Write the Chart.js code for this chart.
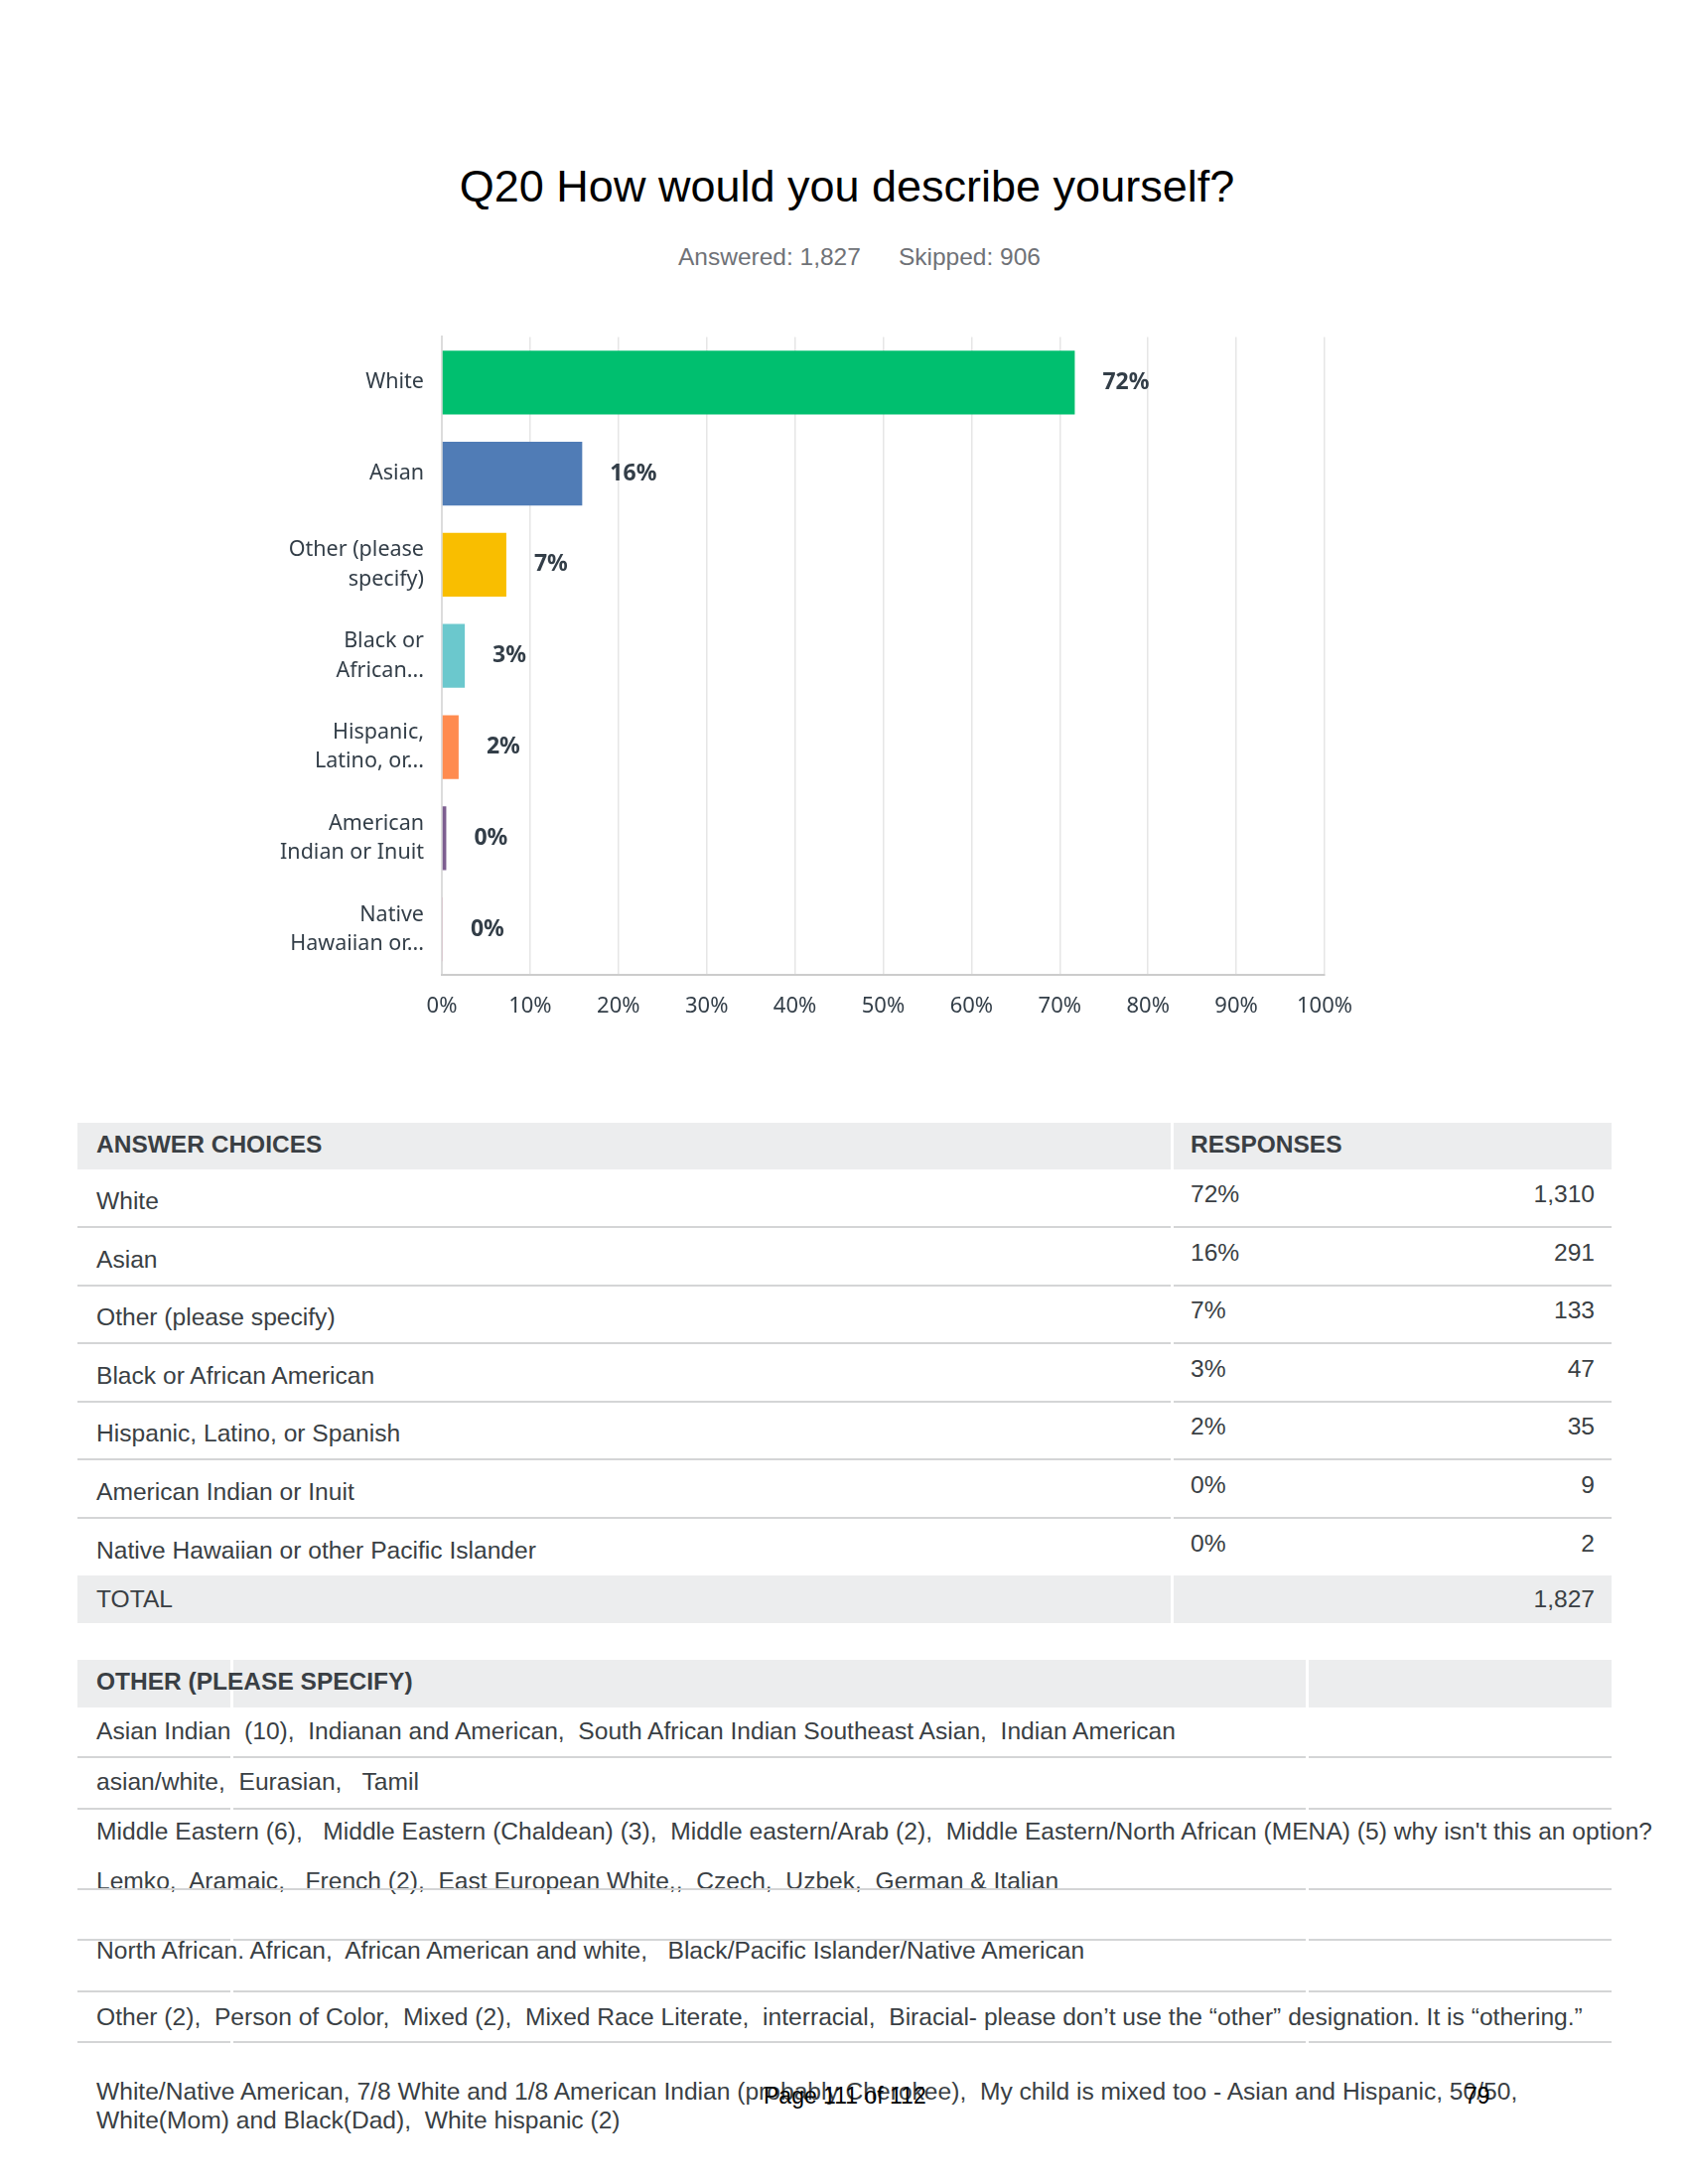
<!DOCTYPE html>
<html>
<head>
<meta charset="utf-8">
<script src="https://cdn.jsdelivr.net/npm/chart.js@4"></script>
<style>
  body { margin: 0; background: #fff; }
  #page { position: relative; width: 1700px; height: 2200px; overflow: hidden; font-family: "Liberation Sans", Arial, sans-serif; color: #3a3f44; }
  .t { position: absolute; white-space: pre; line-height: 1; }
  .bg { position: absolute; background: #ecedee; }
  .ln { position: absolute; height: 2px; background: #d4d5d6; }
  .gap { position: absolute; width: 3px; background: #fff; }
  #chartBox { position: absolute; left: 0; top: 300px; width: 1700px; height: 760px; }
</style>
</head>
<body>
<div id="page">
  <div class="t" style="left:0;width:1706px;text-align:center;top:165px;font-size:45px;color:#000;">Q20 How would you describe yourself?</div>
  <div class="t" style="left:683px;top:247px;font-size:24.5px;color:#6f7277;">Answered: 1,827<span style="display:inline-block;width:38px"></span>Skipped: 906</div>
  <div id="chartBox"><canvas id="chart" width="1700" height="760"></canvas></div>
  <div id="tables"></div>
</div>
<script>
const answerChoices = ['White', 'Asian', 'Other (please specify)', 'Black or African American',
  'Hispanic, Latino, or Spanish', 'American Indian or Inuit', 'Native Hawaiian or other Pacific Islander'];
const axisLabels = [['White'], ['Asian'], ['Other (please', 'specify)'], ['Black or', 'African...'],
  ['Hispanic,', 'Latino, or...'], ['American', 'Indian or Inuit'], ['Native', 'Hawaiian or...']];
const percentValues = [71.7, 15.9, 7.3, 2.6, 1.9, 0.5, 0.1];
const percentLabels = ['72%', '16%', '7%', '3%', '2%', '0%', '0%'];
const responseCounts = ['1,310', '291', '133', '47', '35', '9', '2'];
const totalResponses = '1,827';
const barColors = ['#00bf6f', '#507cb6', '#f9be00', '#6bc8cd', '#ff8b4f', '#7d5e90', '#d25f90'];
const otherResponses = [
  'Asian Indian  (10),  Indianan and American,  South African Indian Southeast Asian,  Indian American',
  'asian/white,  Eurasian,   Tamil',
  'Middle Eastern (6),   Middle Eastern (Chaldean) (3),  Middle eastern/Arab (2),  Middle Eastern/North African (MENA) (5) why isn\'t this an option?',
  'Lemko,  Aramaic,   French (2),  East European White,,  Czech,  Uzbek,  German & Italian',
  'North African. African,  African American and white,   Black/Pacific Islander/Native American',
  'Other (2),  Person of Color,  Mixed (2),  Mixed Race Literate,  interracial,  Biracial- please don\u2019t use the \u201cother\u201d designation. It is \u201cothering.\u201d',
  'White/Native American, 7/8 White and 1/8 American Indian (probably Cherokee),  My child is mixed too - Asian and Hispanic, 50/50,\nWhite(Mom) and Black(Dad),  White hispanic (2)'
];

const chartFont = '"Noto Sans", "Open Sans", sans-serif';
const labelColor = '#333e48';

const barLabels = {
  id: 'barLabels',
  afterDatasetsDraw(chart) {
    const ctx = chart.ctx;
    const meta = chart.getDatasetMeta(0);
    ctx.save();
    ctx.font = 'bold 23px ' + chartFont;
    ctx.fillStyle = labelColor;
    ctx.textAlign = 'left';
    ctx.textBaseline = 'middle';
    meta.data.forEach((bar, i) => {
      ctx.fillText(percentLabels[i], bar.x + 28, bar.y);
    });
    ctx.restore();
  }
};

new Chart(document.getElementById('chart').getContext('2d'), {
  type: 'bar',
  data: {
    labels: axisLabels,
    datasets: [{
      data: percentValues,
      backgroundColor: barColors,
      borderWidth: 0,
      barPercentage: 0.7,
      categoryPercentage: 1
    }]
  },
  options: {
    indexAxis: 'y',
    responsive: false,
    animation: false,
    devicePixelRatio: 1,
    layout: { padding: { left: 245, right: 366, top: 30, bottom: 18 } },
    plugins: { legend: { display: false }, tooltip: { enabled: false } },
    scales: {
      y: {
        grid: { display: false },
        border: { display: true, color: '#dcdcdc', width: 2 },
        ticks: { padding: 10, color: labelColor, font: { family: chartFont, size: 21.5, lineHeight: 1.37 } },
        afterFit(s) { s.width = 200; }
      },
      x: {
        min: 0,
        max: 100,
        grid: { color: '#e6e6e6', lineWidth: 1.5, drawTicks: false },
        border: { display: true, color: '#cccccc', width: 2 },
        ticks: {
          stepSize: 10, padding: 19, color: labelColor,
          font: { family: chartFont, size: 22 },
          callback: v => v + '%'
        },
        afterFit(s) { s.height = 60; }
      }
    }
  },
  plugins: [barLabels]
});

// tables drawn as positioned blocks
const out = [];
function text(x, y, s, extra) {
  out.push('<div class="t" style="left:' + x + 'px;top:' + (y - 12) + 'px;font-size:24.6px;' + (extra || '') + '">' +
    s.replace(/&/g, '&amp;').replace(/</g, '&lt;') + '</div>');
}
function line(y, cuts) {
  out.push('<div class="ln" style="left:78px;width:1545px;top:' + y + 'px"></div>');
  cuts.forEach(c => out.push('<div class="gap" style="left:' + c + 'px;top:' + y + 'px;height:2px"></div>'));
}
function band(top, h, cuts) {
  out.push('<div class="bg" style="left:78px;width:1545px;top:' + top + 'px;height:' + h + 'px"></div>');
  cuts.forEach(c => out.push('<div class="gap" style="left:' + c + 'px;top:' + top + 'px;height:' + h + 'px"></div>'));
}

// table 1
const cut1 = [1179];
band(1131, 47, cut1);
text(97, 1153, 'ANSWER CHOICES', 'font-weight:bold;font-size:24.5px');
text(1199, 1153, 'RESPONSES', 'font-weight:bold;font-size:24.5px');
answerChoices.forEach((c, i) => {
  const y = 1210 + i * 58.6;
  text(97, y, c);
  text(1199, y - 7, percentLabels[i]);
  out.push('<div class="t" style="left:1300px;width:306px;text-align:right;top:' + (y - 19) + 'px;font-size:24.6px">' + responseCounts[i] + '</div>');
  if (i < answerChoices.length - 1) line(Math.round(y + 25), cut1);
});
band(1587, 48, cut1);
text(97, 1611, 'TOTAL');
out.push('<div class="t" style="left:1300px;width:306px;text-align:right;top:1599px;font-size:24.6px">' + totalResponses + '</div>');

// table 2
const cut2 = [232, 1315];
band(1672, 48, cut2);
text(97, 1694, 'OTHER (PLEASE SPECIFY)', 'font-weight:bold;font-size:24.5px');
const otherY = [1744, 1795, 1845, 1895, 1965, 2032, 2104];
otherResponses.forEach((s, i) => {
  if (s.indexOf('\n') >= 0) {
    out.push('<div class="t" style="left:97px;top:' + (otherY[i] - 12) + 'px;font-size:24.6px;line-height:29px">' + s + '</div>');
  } else {
    text(97, otherY[i], s);
  }
});
[1769, 1821, 1902, 1953, 2005, 2056].forEach(y => line(y, cut2));

// page footer
text(769, 2112, 'Page 111 of 112', 'color:#000;font-size:23px');
text(1475, 2112, '79', 'color:#000;font-size:23px');

document.getElementById('tables').innerHTML = out.join('');
</script>
</body>
</html>
